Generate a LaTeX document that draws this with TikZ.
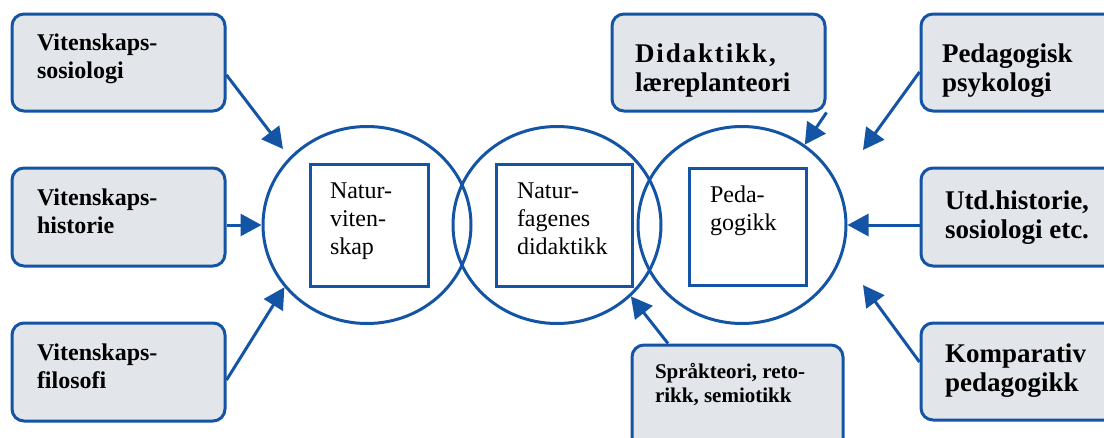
\documentclass[tikz,border=0pt]{standalone}
\usepackage{fontspec}
\setmainfont{Liberation Serif}
\usetikzlibrary{arrows.meta,shapes.geometric}
\definecolor{lineblue}{RGB}{20,84,164}
\definecolor{boxgray}{RGB}{226,229,233}
\newcommand\btext[5]{\begin{minipage}[c][#2][t]{#1}\raggedright\leftskip=#4\relax\rule{0pt}{#3}#5\end{minipage}}
\tikzset{
  gbox/.style={draw=lineblue, fill=boxgray, line width=3pt, rounded corners=12pt, inner sep=0pt},
  lfont/.style={font=\fontsize{24}{28}\selectfont\bfseries},
  rfont/.style={font=\fontsize{27}{29}\selectfont\bfseries},
  sfont/.style={font=\fontsize{21}{24}\selectfont\bfseries},
  sqbox/.style={draw=lineblue, fill=white, line width=3pt, inner sep=0pt, font=\fontsize{24}{28}\selectfont},
  circ/.style={ellipse, draw=lineblue, line width=3pt, minimum width=208pt, minimum height=197pt, inner sep=0pt},
  arr/.style={draw=lineblue, line width=3pt, -{Triangle[length=21pt,width=22pt]}}
}
\begin{document}
\begin{tikzpicture}[x=1pt,y=-1pt]
\useasboundingbox (0,0) rectangle (1104,437);
\clip (0,0) rectangle (1104,437);
\fill[white] (0,0) rectangle (1104,437);
% left boxes
\node[gbox,lfont] (b1) at (118.5,62.5) {\btext{213pt}{97pt}{36pt}{25pt}{Vitenskaps-\\sosiologi}};
\node[gbox,lfont] (b2) at (118.5,217) {\btext{213pt}{98pt}{37pt}{25pt}{Vitenskaps-\\historie}};
\node[gbox,lfont] (b3) at (118.5,372) {\btext{213pt}{98pt}{37pt}{25pt}{Vitenskaps-\\filosofi}};
% right boxes
\node[gbox,rfont] (d) at (718.5,62.5) {\btext{213pt}{97pt}{48pt}{23pt}{{\addfontfeature{LetterSpace=7}Didaktikk,}\\læreplanteori}};
\node[gbox,rfont] (p) at (1022.5,62.5) {\btext{203pt}{97pt}{48pt}{21pt}{Pedagogisk\\psykologi}};
\node[gbox,rfont] (u) at (1022.5,217) {\btext{203pt}{98pt}{41pt}{24pt}{Utd.historie,\\sosiologi etc.}};
\node[gbox,rfont] (k) at (1022.5,371.5) {\btext{203pt}{97pt}{39pt}{24pt}{Komparativ\\pedagogikk}};
\node[gbox,sfont] (s) at (737.5,400) {\btext{211pt}{110pt}{33pt}{23pt}{Språkteori, reto-\\rikk, semiotikk}};
% circles
\node[circ] (c1) at (367,225) {};
\node[circ] (c2) at (557,225) {};
\node[circ] (c3) at (742,225) {};
% inner squares
\node[sqbox] (q1) at (369,225) {\btext{118pt}{122pt}{34pt}{20pt}{Natur-\\viten-\\skap}};
\node[sqbox] (q2) at (564,225) {\btext{136pt}{122pt}{34pt}{21pt}{Natur-\\fagenes\\didaktikk}};
\node[sqbox] (q3) at (747.5,226.5) {\btext{117pt}{117pt}{34pt}{21pt}{Peda-\\gogikk}};
% free arrow ends
\coordinate (t1) at (283,149);
\coordinate (t5) at (863,150);
\coordinate (t7) at (863,285);
% arrows
\draw[arr] ([yshift=-12.5pt]b1.east) -- (t1);
\draw[arr] (c1.west -| b2.east) -- (c1.west);
\draw[arr] ([yshift=-8pt]b3.east) -- (c1.217);
\draw[arr] (d.south east) -- (c3.52);
\draw[arr] ([yshift=-9.5pt]p.west) -- (t5);
\draw[arr] (c3.east -| u.west) -- (c3.east);
\draw[arr] ([yshift=9.5pt]k.west) -- (t7);
\draw[arr] ([xshift=-69.5pt]s.north) -- (c2.316);
\end{tikzpicture}
\end{document}
